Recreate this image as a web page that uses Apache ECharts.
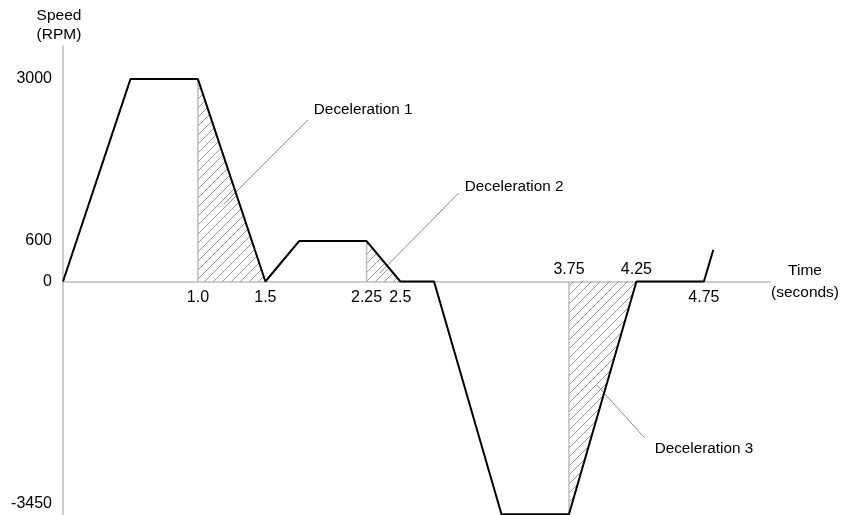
<!DOCTYPE html>
<html>
<head>
    <meta charset="UTF-8">
    <title>Speed profile</title>
    <script src="https://cdn.jsdelivr.net/npm/echarts@6/dist/echarts.min.js"></script>
    <style>
        html, body { margin: 0; padding: 0; background: #fff; }
        #chart { width: 847px; height: 515px; }
    </style>
</head>
<body>
    <div id="chart"></div>
    <script>
        // speed profile (seconds, RPM)
        var profileTime = [0, 0.5, 1.0, 1.5, 1.75, 2.25, 2.5, 2.75, 3.25, 3.75, 4.25, 4.75, 4.82];
        var profileSpeed = [0, 3000, 3000, 0, 600, 600, 0, 0, -3450, -3450, 0, 0, 470];

        // deceleration zones
        var decelStart = [1.0, 2.25, 3.75];
        var decelEnd = [1.5, 2.5, 4.25];
        var decelSpeed = [3000, 600, -3450];
        var decelNames = ['Deceleration 1', 'Deceleration 2', 'Deceleration 3'];

        // leader lines: from (time, speed) to (time, speed), and text anchors
        var leaderFrom = [[1.815, 2393], [2.933, 1311], [3.956, -1533]];
        var leaderTo = [[1.193, 1148], [2.348, 126], [4.311, -2318]];
        var textAt = [[1.859, 2540], [2.978, 1400], [4.385, -2480]];

        // tick labels
        var yTicks = [3000, 600, 0, -3450];
        var xTicksBelow = [1.0, 1.5, 2.25, 2.5, 4.75];
        var xLabelsBelow = ['1.0', '1.5', '2.25', '2.5', '4.75'];
        var xTicksAbove = [3.75, 4.25];
        var xLabelsAbove = ['3.75', '4.25'];

        var T_MAX = 5.24;
        var V_MIN = -3460, V_MAX = 3490;

        var FONT = '"Liberation Sans", Arial, Helvetica, sans-serif';
        var AXIS_COLOR = '#bdbdbd';
        var TEXT_COLOR = '#000';

        // diagonal hatch pattern
        function makeHatch() {
            var c = document.createElement('canvas');
            c.width = 9;
            c.height = 9;
            var ctx = c.getContext('2d');
            ctx.strokeStyle = '#7a7a7a';
            ctx.lineWidth = 0.8;
            ctx.beginPath();
            ctx.moveTo(-1, 10); ctx.lineTo(10, -1);
            ctx.moveTo(-1, 1); ctx.lineTo(1, -1);
            ctx.moveTo(8, 10); ctx.lineTo(10, 8);
            ctx.stroke();
            return c;
        }
        var hatch = makeHatch();

        var profileData = profileTime.map(function (t, i) { return [t, profileSpeed[i]]; });

        var series = [];

        decelStart.forEach(function (t0, i) {
            // hatched area under the deceleration ramp
            series.push({
                type: 'line',
                data: [[t0, decelSpeed[i]], [decelEnd[i], 0]],
                symbol: 'none',
                silent: true,
                lineStyle: { width: 0, opacity: 0 },
                areaStyle: { color: { image: hatch, repeat: 'repeat' }, opacity: 1 },
                z: 1
            });
            // vertical boundary
            series.push({
                type: 'line',
                data: [[t0, 0], [t0, decelSpeed[i]]],
                symbol: 'none',
                silent: true,
                lineStyle: { color: AXIS_COLOR, width: 1.5 },
                z: 2
            });
            // leader line
            series.push({
                type: 'line',
                data: [leaderFrom[i], leaderTo[i]],
                symbol: 'none',
                silent: true,
                lineStyle: { color: '#8a8a8a', width: 1 },
                z: 3
            });
            // annotation text
            series.push({
                type: 'scatter',
                data: [textAt[i]],
                symbolSize: 0,
                silent: true,
                itemStyle: { opacity: 1 },
                label: {
                    show: true,
                    position: 'right',
                    distance: 0,
                    formatter: decelNames[i],
                    color: TEXT_COLOR,
                    opacity: 1,
                    fontSize: 15.3,
                    fontFamily: FONT
                },
                z: 5
            });
        });

        series.push({
            type: 'line',
            data: profileData,
            symbol: 'none',
            silent: true,
            lineStyle: { color: '#000', width: 2 },
            z: 4
        });

        var chart = echarts.init(document.getElementById('chart'), null, { renderer: 'canvas' });

        // grid 0 holds the plot, grid 1 spans only the positive half so its
        // bottom edge sits on speed 0 and carries the time axis
        var zeroY = 46 + 469 * V_MAX / (V_MAX - V_MIN);

        var option = {
            animation: false,
            backgroundColor: '#fff',
            grid: [
                { left: 63, right: 77, top: 46, bottom: 0, containLabel: false, outerBoundsMode: 'none' },
                { left: 63, right: 77, top: 46, height: zeroY - 46, containLabel: false, outerBoundsMode: 'none' }
            ],
            xAxis: [{
                type: 'value',
                gridIndex: 0,
                min: 0,
                max: T_MAX,
                show: false
            }, {
                type: 'value',
                gridIndex: 1,
                min: 0,
                max: T_MAX,
                position: 'bottom',
                axisLine: { show: true, onZero: false, lineStyle: { color: AXIS_COLOR, width: 1.5 } },
                axisTick: { show: false },
                splitLine: { show: false },
                axisLabel: {
                    customValues: xTicksBelow,
                    formatter: function (v) {
                        var k = xTicksBelow.indexOf(v);
                        return k >= 0 ? xLabelsBelow[k] : '';
                    },
                    margin: 8,
                    color: TEXT_COLOR,
                    fontSize: 16,
                    fontFamily: FONT
                },
                name: 'Time\n(seconds)',
                nameLocation: 'end',
                nameGap: 35,
                nameTextStyle: {
                    align: 'center',
                    verticalAlign: 'middle',
                    lineHeight: 22,
                    padding: [8, 0, 0, 0],
                    color: TEXT_COLOR,
                    fontSize: 15.5,
                    fontFamily: FONT
                }
            }, {
                type: 'value',
                gridIndex: 1,
                min: 0,
                max: T_MAX,
                position: 'bottom',
                axisLine: { show: false, onZero: false },
                axisTick: { show: false },
                splitLine: { show: false },
                axisLabel: {
                    inside: true,
                    customValues: xTicksAbove,
                    formatter: function (v) {
                        var k = xTicksAbove.indexOf(v);
                        return k >= 0 ? xLabelsAbove[k] : '';
                    },
                    margin: 4,
                    color: TEXT_COLOR,
                    fontSize: 16,
                    fontFamily: FONT
                }
            }],
            yAxis: [{
                type: 'value',
                gridIndex: 0,
                min: V_MIN,
                max: V_MAX,
                axisLine: { show: true, onZero: false, lineStyle: { color: AXIS_COLOR, width: 1.5 } },
                axisTick: { show: false },
                splitLine: { show: false },
                axisLabel: {
                    customValues: yTicks,
                    formatter: function (v) {
                        return v === -3450 ? '{up|-3450}' : String(v);
                    },
                    rich: {
                        up: { padding: [0, 0, 22, 0], fontSize: 16, color: TEXT_COLOR, fontFamily: FONT }
                    },
                    margin: 11,
                    color: TEXT_COLOR,
                    fontSize: 16,
                    fontFamily: FONT
                },
                name: 'Speed\n(RPM)',
                nameLocation: 'end',
                nameGap: 2,
                nameTextStyle: {
                    align: 'center',
                    verticalAlign: 'bottom',
                    lineHeight: 19,
                    padding: [0, 8, 0, 0],
                    color: TEXT_COLOR,
                    fontSize: 15.5,
                    fontFamily: FONT
                }
            }, {
                type: 'value',
                gridIndex: 1,
                min: 0,
                max: V_MAX,
                show: false
            }],
            series: series
        };

        chart.setOption(option);
    </script>
</body>
</html>
